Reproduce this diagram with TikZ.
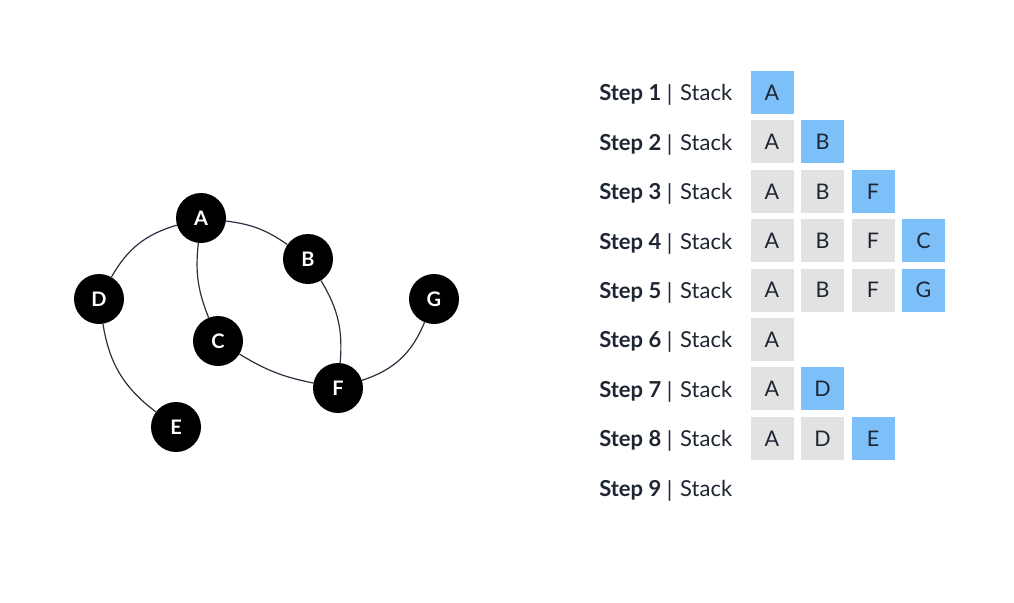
\documentclass[tikz,border=0pt]{standalone}
\usepackage{fontspec}
\setmainfont{Lato}
\definecolor{ink}{HTML}{1F2633}
\definecolor{edge}{HTML}{2B3040}
\definecolor{hl}{HTML}{7DBFF8}
\definecolor{cellgrey}{HTML}{E2E2E2}
\begin{document}
\begin{tikzpicture}[x=1pt,y=-1pt,
  vert/.style={circle,fill=black,minimum size=50pt,inner sep=0pt,text=white,font=\fontsize{20}{20}\selectfont\bfseries},
  link/.style={draw=edge,line width=1.2pt},
  cell/.style={minimum size=43pt,inner sep=0pt,text=ink,font=\fontsize{21.5}{21.5}\selectfont},
  gcell/.style={cell,fill=cellgrey},
  bcell/.style={cell,fill=hl},
  steplbl/.style={anchor=base east,text=ink,inner sep=0pt,font=\fontsize{22}{22}\selectfont\bfseries},
  bar/.style={anchor=base,text=ink,inner sep=0pt,font=\fontsize{22}{22}\selectfont},
  stacklbl/.style={anchor=base west,text=ink,inner sep=0pt,font=\fontsize{22}{22}\selectfont}]
\useasboundingbox[fill=white] (0,0) rectangle (1014,602);
% graph
\node[vert] (A) at (201,218) {A};
\node[vert] (B) at (308,259) {B};
\node[vert] (D) at (99,299) {D};
\node[vert] (G) at (434,299) {G};
\node[vert] (C) at (218,341) {C};
\node[vert] (F) at (338,388) {F};
\node[vert] (E) at (176,427) {E};
\draw[link] (D) to[bend left=22] (A);
\draw[link] (A) to[bend left=14] (B);
\draw[link] (A) to[bend right=14] (C);
\draw[link] (D) to[bend right=22] (E);
\draw[link] (B) to[bend left=18] (F);
\draw[link] (C) to[bend right=10] (F);
\draw[link] (F) to[bend right=25] (G);
% stack rows
\foreach \i in {1,...,9}{
  \pgfmathsetmacro{\yy}{92.5+49.4*(\i-1)+8.3}
  \node[steplbl] (s\i) at (661.5,\yy) {Step \i};
  \node[bar] (b\i) at (669.5,\yy+1) {|};
  \node[stacklbl] (k\i) at (680,\yy) {Stack};
}
% cells
\node[bcell] (r1c1) at (772,92.5) {A};
\node[gcell] (r2c1) at (772,141.9) {A};
\node[bcell] (r2c2) at (822.5,141.9) {B};
\node[gcell] (r3c1) at (772,191.3) {A};
\node[gcell] (r3c2) at (822.5,191.3) {B};
\node[bcell] (r3c3) at (873,191.3) {F};
\node[gcell] (r4c1) at (772,240.7) {A};
\node[gcell] (r4c2) at (822.5,240.7) {B};
\node[gcell] (r4c3) at (873,240.7) {F};
\node[bcell] (r4c4) at (923.5,240.7) {C};
\node[gcell] (r5c1) at (772,290.1) {A};
\node[gcell] (r5c2) at (822.5,290.1) {B};
\node[gcell] (r5c3) at (873,290.1) {F};
\node[bcell] (r5c4) at (923.5,290.1) {G};
\node[gcell] (r6c1) at (772,339.5) {A};
\node[gcell] (r7c1) at (772,388.9) {A};
\node[bcell] (r7c2) at (822.5,388.9) {D};
\node[gcell] (r8c1) at (772,438.3) {A};
\node[gcell] (r8c2) at (822.5,438.3) {D};
\node[bcell] (r8c3) at (873,438.3) {E};
\end{tikzpicture}
\end{document}
